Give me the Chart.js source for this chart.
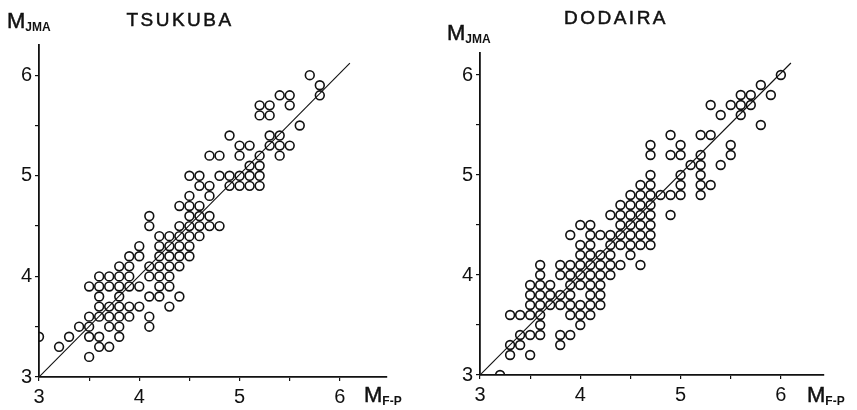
<!DOCTYPE html>
<html>
<head>
  <meta charset="UTF-8" />
  <title>M_JMA vs M_F-P</title>
  <script src="https://cdn.jsdelivr.net/npm/chart.js"></script>
  <style>
    body {
      margin: 0;
      background: #fff;
      width: 857px;
      height: 410px;
      position: relative;
      overflow: hidden;
      font-family: 'Liberation Sans', Arial, sans-serif;
      color: #111;
    }
    canvas { position: absolute; top: 0; }
    #leftChart { left: 0; }
    #rightChart { left: 430px; }
    .lbl {
      position: absolute;
      white-space: nowrap;
      line-height: 1;
      -webkit-text-stroke: 0.5px #111;
    }
    .title { font-size: 19px; letter-spacing: 2.5px; transform: translateX(-50%); }
    .axis { font-size: 22px; }
    .axis sub { font-size: 12px; font-weight: bold; vertical-align: -3px; -webkit-text-stroke: 0; }
  </style>
</head>
<body>
  <canvas id="leftChart" width="430" height="410"></canvas>
  <canvas id="rightChart" width="427" height="410"></canvas>

  <div class="lbl title" style="left:180px; top:10px;">TSUKUBA</div>
  <div class="lbl axis" style="left:7px; top:10px;">M<sub>JMA</sub></div>
  <div class="lbl axis" style="left:364px; top:384px;">M<sub>F-P</sub></div>

  <div class="lbl title" style="left:616px; top:8px;">DODAIRA</div>
  <div class="lbl axis" style="left:447px; top:22px;">M<sub>JMA</sub></div>
  <div class="lbl axis" style="left:807px; top:384px;">M<sub>F-P</sub></div>

  <script>
    // TSUKUBA: M_F-P (x) and M_JMA (y)
    const tsukubaX = [
      5.7, 5.8, 5.4, 5.5, 5.8, 5.2, 5.3, 5.5, 5.2, 5.3, 5.6,
      4.9, 5.3, 5.4, 5.0, 5.1, 5.3, 5.4, 5.5, 4.7, 4.8, 5.0, 5.2, 5.4, 5.1, 5.2,
      4.5, 4.6, 4.8, 4.9, 5.0, 5.1, 5.2, 4.6, 4.7, 4.9, 5.0, 5.1, 5.2, 4.5, 4.7,
      4.4, 4.5, 4.6, 4.1, 4.5, 4.6, 4.7, 4.1, 4.4, 4.5, 4.6, 4.7, 4.8,
      4.2, 4.3, 4.4, 4.5, 4.6, 4.0, 4.2, 4.3, 4.4, 4.5, 3.9, 4.0, 4.2, 4.3, 4.4, 4.5,
      3.8, 3.9, 4.1, 4.2, 4.3, 4.4, 3.6, 3.7, 3.8, 3.9, 4.1, 4.2, 4.3,
      3.5, 3.6, 3.7, 3.8, 3.9, 4.0, 4.2, 4.3, 3.6, 3.8, 4.1, 4.2, 4.4,
      3.6, 3.7, 3.8, 3.9, 4.0, 4.3, 3.5, 3.6, 3.7, 3.8, 3.9, 4.1,
      3.4, 3.5, 3.7, 3.8, 4.1, 3.0, 3.3, 3.5, 3.6, 3.8, 3.2, 3.6, 3.7, 3.5
    ];
    const tsukubaY = [
      6.0, 5.9, 5.8, 5.8, 5.8, 5.7, 5.7, 5.7, 5.6, 5.6, 5.5,
      5.4, 5.4, 5.4, 5.3, 5.3, 5.3, 5.3, 5.3, 5.2, 5.2, 5.2, 5.2, 5.2, 5.1, 5.1,
      5.0, 5.0, 5.0, 5.0, 5.0, 5.0, 5.0, 4.9, 4.9, 4.9, 4.9, 4.9, 4.9, 4.8, 4.8,
      4.7, 4.7, 4.7, 4.6, 4.6, 4.6, 4.6, 4.5, 4.5, 4.5, 4.5, 4.5, 4.5,
      4.4, 4.4, 4.4, 4.4, 4.4, 4.3, 4.3, 4.3, 4.3, 4.3, 4.2, 4.2, 4.2, 4.2, 4.2, 4.2,
      4.1, 4.1, 4.1, 4.1, 4.1, 4.1, 4.0, 4.0, 4.0, 4.0, 4.0, 4.0, 4.0,
      3.9, 3.9, 3.9, 3.9, 3.9, 3.9, 3.9, 3.9, 3.8, 3.8, 3.8, 3.8, 3.8,
      3.7, 3.7, 3.7, 3.7, 3.7, 3.7, 3.6, 3.6, 3.6, 3.6, 3.6, 3.6,
      3.5, 3.5, 3.5, 3.5, 3.5, 3.4, 3.4, 3.4, 3.4, 3.4, 3.3, 3.3, 3.3, 3.2
    ];

    // DODAIRA: M_F-P (x) and M_JMA (y)
    const dodairaX = [
      6.0, 5.8, 5.6, 5.7, 5.9, 5.3, 5.5, 5.6, 5.7, 5.4, 5.6, 5.8,
      4.9, 5.2, 5.3, 4.7, 5.0, 5.5, 4.7, 4.9, 5.0, 5.2, 5.5, 5.1, 5.2, 5.4,
      4.7, 5.0, 5.2, 4.6, 4.7, 5.0, 5.2, 5.3,
      4.5, 4.6, 4.7, 4.8, 4.9, 5.0, 5.2, 4.4, 4.5, 4.6, 4.7,
      4.3, 4.4, 4.5, 4.6, 4.7, 4.9, 4.0, 4.1, 4.4, 4.5, 4.6, 4.7,
      3.9, 4.1, 4.2, 4.3, 4.4, 4.5, 4.6, 4.7, 4.0, 4.1, 4.3, 4.4, 4.5, 4.6, 4.7,
      4.0, 4.1, 4.2, 4.3, 4.5, 3.6, 3.8, 3.9, 4.0, 4.1, 4.2, 4.3, 4.4, 4.6,
      3.6, 3.8, 3.9, 4.0, 4.1, 4.2, 4.3, 3.5, 3.6, 3.7, 3.9, 4.0, 4.1, 4.2,
      3.5, 3.6, 3.7, 3.8, 3.9, 4.1, 4.2, 3.5, 3.6, 3.7, 3.8, 3.9, 4.0, 4.1, 4.2,
      3.3, 3.4, 3.5, 3.6, 3.9, 4.0, 4.1, 3.6, 4.0,
      3.4, 3.5, 3.6, 3.8, 3.9, 3.3, 3.4, 3.8, 3.3, 3.5, 3.2
    ];
    const dodairaY = [
      6.0, 5.9, 5.8, 5.8, 5.8, 5.7, 5.7, 5.7, 5.7, 5.6, 5.6, 5.5,
      5.4, 5.4, 5.4, 5.3, 5.3, 5.3, 5.2, 5.2, 5.2, 5.2, 5.2, 5.1, 5.1, 5.1,
      5.0, 5.0, 5.0, 4.9, 4.9, 4.9, 4.9, 4.9,
      4.8, 4.8, 4.8, 4.8, 4.8, 4.8, 4.8, 4.7, 4.7, 4.7, 4.7,
      4.6, 4.6, 4.6, 4.6, 4.6, 4.6, 4.5, 4.5, 4.5, 4.5, 4.5, 4.5,
      4.4, 4.4, 4.4, 4.4, 4.4, 4.4, 4.4, 4.4, 4.3, 4.3, 4.3, 4.3, 4.3, 4.3, 4.3,
      4.2, 4.2, 4.2, 4.2, 4.2, 4.1, 4.1, 4.1, 4.1, 4.1, 4.1, 4.1, 4.1, 4.1,
      4.0, 4.0, 4.0, 4.0, 4.0, 4.0, 4.0, 3.9, 3.9, 3.9, 3.9, 3.9, 3.9, 3.9,
      3.8, 3.8, 3.8, 3.8, 3.8, 3.8, 3.8, 3.7, 3.7, 3.7, 3.7, 3.7, 3.7, 3.7, 3.7,
      3.6, 3.6, 3.6, 3.6, 3.6, 3.6, 3.6, 3.5, 3.5,
      3.4, 3.4, 3.4, 3.4, 3.4, 3.3, 3.3, 3.3, 3.2, 3.2, 3.0
    ];

    // 1:1 reference line end points
    const lineX = [3.0, 6.1];
    const lineY = [3.0, 6.12];

    const axisTicks = [3, 4, 5, 6];

    function toPoints(xs, ys) {
      return xs.map((x, i) => ({ x: x, y: ys[i] }));
    }

    function makeChart(id, xs, ys, box) {
      const tickFont = { family: "'Liberation Sans', Arial, sans-serif", size: 20 };
      const label = v => axisTicks.includes(v) ? String(v) : '';
      new Chart(document.getElementById(id), {
        type: 'scatter',
        data: {
          datasets: [
            {
              data: toPoints(xs, ys),
              pointRadius: 4.4,
              pointBorderWidth: 1.6,
              pointBorderColor: '#111',
              pointBackgroundColor: 'rgba(255,255,255,0)'
            },
            {
              data: toPoints(lineX, lineY),
              showLine: true,
              borderColor: '#111',
              borderWidth: 1.1,
              pointRadius: 0
            }
          ]
        },
        options: {
          responsive: false,
          animation: false,
          layout: { padding: { top: box.top, right: box.right, left: 0, bottom: 0 } },
          plugins: { legend: { display: false }, tooltip: { enabled: false } },
          scales: {
            x: {
              type: 'linear',
              min: 3,
              max: box.xMax,
              afterFit: s => { s.height = box.xH; },
              border: { color: '#111', width: 1.8 },
              grid: { drawOnChartArea: false, tickLength: 4, color: '#111', lineWidth: 1.2 },
              ticks: { stepSize: 0.5, includeBounds: false, autoSkip: false, maxRotation: 0,
                       padding: 4, color: '#111', font: tickFont, callback: label }
            },
            y: {
              type: 'linear',
              min: 3,
              max: box.yMax,
              afterFit: s => { s.width = box.yW; },
              border: { color: '#111', width: 1.8 },
              grid: { drawOnChartArea: false, tickLength: 4, color: '#111', lineWidth: 1.2 },
              ticks: { stepSize: 0.5, includeBounds: false, autoSkip: false,
                       padding: 3, color: '#111', font: tickFont, callback: label }
            }
          }
        }
      });
    }

    makeChart('leftChart', tsukubaX, tsukubaY, { top: 45, right: 43, yW: 39, xH: 33, xMax: 6.47, yMax: 6.3 });
    makeChart('rightChart', dodairaX, dodairaY, { top: 53, right: 33, yW: 50, xH: 35, xMax: 6.43, yMax: 6.22 });
  </script>
</body>
</html>
